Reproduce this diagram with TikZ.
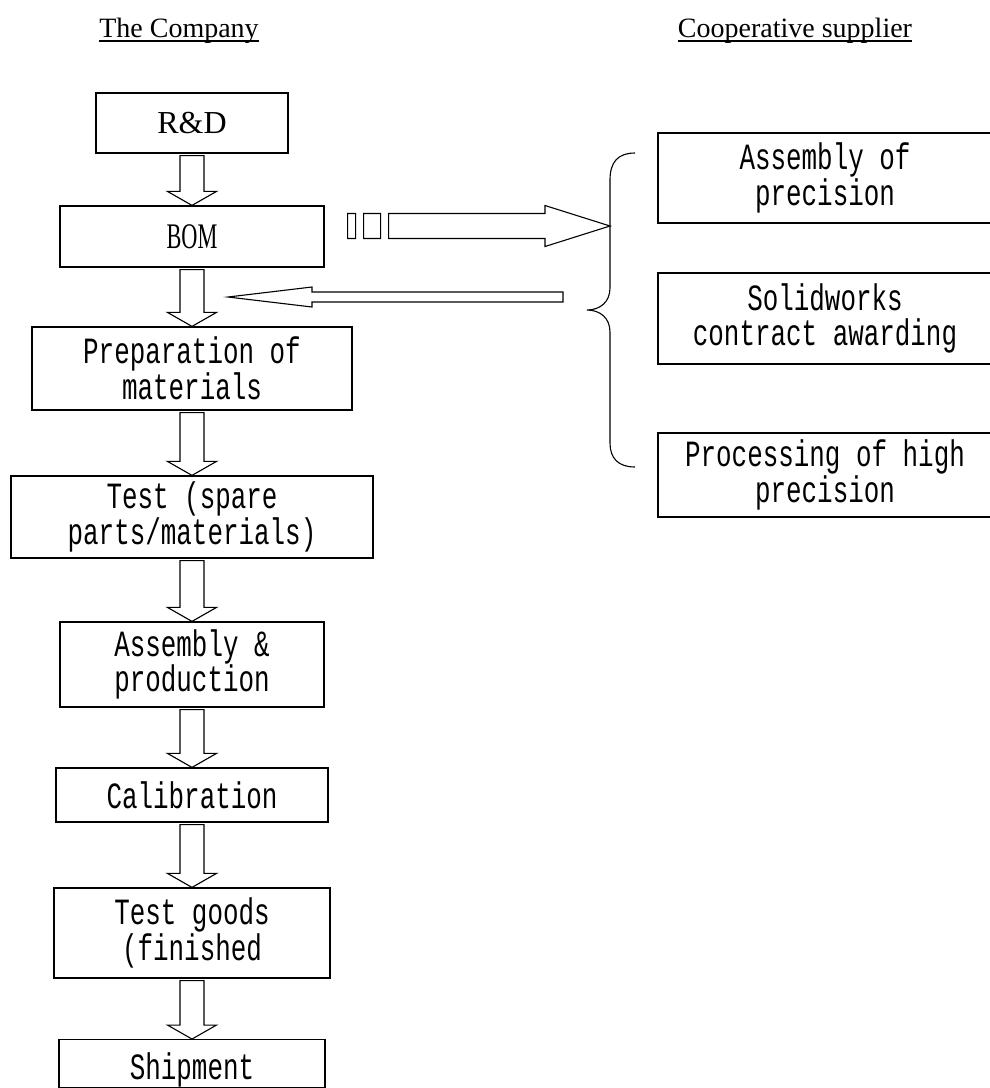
\documentclass[tikz,border=0pt]{standalone}
\usepackage{fontspec}
\setmainfont{Liberation Serif}
\newfontfamily\boxfont[FakeStretch=0.70]{Liberation Mono}
\newfontfamily\narrowfont[FakeStretch=0.62]{Liberation Serif}
\usetikzlibrary{calc}

\begin{document}
\begin{tikzpicture}[x=1pt,y=-1pt,
  flowbox/.style={draw, line width=1.2pt, inner sep=0pt, align=center,
    font=\boxfont\fontsize{37}{32.5}\selectfont},
  headtext/.style={inner sep=0pt, anchor=base, font=\fontsize{28}{30}\selectfont},
  blockline/.style={draw, line width=1.1pt, line join=miter}]
\useasboundingbox (0,0) rectangle (990,1088);
%draw headings
\node[headtext] (company) at (179,37) {The Company};
\node[headtext] (supplier) at (795,37) {Cooperative supplier};
\foreach \h in {company, supplier}{
   \draw[line width=1.2pt] ([yshift=-4pt]\h.base west) -- ([yshift=-4pt]\h.base east);
}
%draw company boxes
\node[flowbox, minimum width=192pt, minimum height=60pt, font=\fontsize{32}{34}\selectfont] (rd) at (192,123) {R\&D};
\node[flowbox, minimum width=264pt, minimum height=61pt, font=\narrowfont\fontsize{36}{38}\selectfont] (bom) at (192,236.5) {BOM};
\node[flowbox, minimum width=320pt, minimum height=83pt] (prep) at (192,368.5) {Preparation of\\materials};
\node[flowbox, minimum width=362pt, minimum height=82pt] (test) at (192,517) {Test (spare\\parts/materials)};
\node[flowbox, minimum width=264pt, minimum height=85pt] (asm) at (192,664.5) {Assembly \&\\production};
\node[flowbox, minimum width=272pt, minimum height=54pt] (calib) at (192,795) {Calibration};
\node[flowbox, minimum width=276pt, minimum height=90pt] (goods) at (192,933) {Test goods\\(finished};
\node[flowbox, minimum width=266pt, minimum height=47pt, text height=40pt] (ship) at (192,1063.5) {Shipment};
%draw supplier boxes
\node[flowbox, minimum width=334pt, minimum height=90pt] (sup1) at (825,178) {Assembly of\\precision};
\node[flowbox, minimum width=334pt, minimum height=91pt, font=\boxfont\fontsize{37}{34.5}\selectfont] (sup2) at (825,318.5) {Solidworks\\contract awarding};
\node[flowbox, minimum width=334pt, minimum height=84pt] (sup3) at (825,475) {Processing of high\\precision};
%draw down arrows
\foreach \a/\b in {rd/bom, bom/prep, prep/test, test/asm, asm/calib, calib/goods, goods/ship}{
   \draw[blockline] let \p1=(\a.south), \p2=(\b.north) in
      (\x1-12pt,\y1-2pt) -- (\x1-12pt,\y2+14pt) -- (\x1-24.5pt,\y2+14pt) -- (\x2,\y2)
      -- (\x1+24.5pt,\y2+14pt) -- (\x1+12pt,\y2+14pt) -- (\x1+12pt,\y1-2pt) -- cycle;
}
%draw brace
\coordinate (bracetip) at (610,226);
\draw[line width=1.1pt] (635,153) .. controls (618,153) and (610,162) .. (610,180) -- (610,288)
   .. controls (610,302) and (600,310) .. (587,310)
   .. controls (600,310) and (610,318) .. (610,332) -- (610,443)
   .. controls (610,458) and (618,467) .. (635,467);
%draw arrow to supplier
\draw[blockline] let \p1=(bom.east), \p2=(bracetip) in
   (\x1+23pt,\y2+12.5pt) rectangle (\x1+31pt,\y2-12.5pt)
   (\x1+39pt,\y2+12.5pt) rectangle (\x1+56pt,\y2-12.5pt)
   (\x1+64pt,\y2+12.5pt) -- (\x2-65pt,\y2+12.5pt) -- (\x2-65pt,\y2+20.5pt) -- (\x2,\y2)
   -- (\x2-65pt,\y2-20.5pt) -- (\x2-65pt,\y2-12.5pt) -- (\x1+64pt,\y2-12.5pt) -- cycle;
%draw arrow back
\coordinate (backtail) at (563,297);
\coordinate (backtip) at (228,297);
\draw[blockline] let \p1=(backtail), \p2=(backtip) in
   (\x1,\y1+5pt) -- (\x2+84pt,\y1+5pt) -- (\x2+84pt,\y1+10pt) -- (\x2,\y2)
   -- (\x2+84pt,\y1-10pt) -- (\x2+84pt,\y1-5pt) -- (\x1,\y1-5pt) -- cycle;
\end{tikzpicture}
\end{document}
